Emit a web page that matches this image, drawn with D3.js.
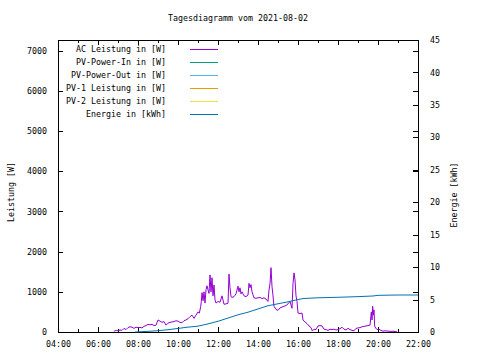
<!DOCTYPE html>
<html>
<head>
<meta charset="utf-8">
<script src="https://cdn.jsdelivr.net/npm/d3@7"></script>
<style>
    body { margin: 0; background: #fff; }
    svg { display: block; }
    text { font-family: "DejaVu Sans Mono", monospace; font-size: 8.3px; fill: #000; }
    .crisp { shape-rendering: crispEdges; }
</style>
</head>
<body>
<svg id="chart" width="480" height="360"></svg>
<script>
    "use strict";

    // --- data ---
    var title = "Tagesdiagramm vom 2021-08-02";
    var seriesNames = ["AC Leistung in [W]", "PV-Power-In in [W]", "PV-Power-Out in [W]",
        "PV-1 Leistung in [W]", "PV-2 Leistung in [W]", "Energie in [kWh]"];
    var seriesColors = ["#9400d3", "#009e73", "#56b4e9", "#e69f00", "#f0e442", "#0072b2"];

    var xTicks = ["04:00", "06:00", "08:00", "10:00", "12:00", "14:00", "16:00", "18:00", "20:00", "22:00"];
    var yTicks = [0, 1000, 2000, 3000, 4000, 5000, 6000, 7000];
    var y2Ticks = [0, 5, 10, 15, 20, 25, 30, 35, 40, 45];

    var acTimes = ["06:48", "06:55", "07:00", "07:06", "07:12", "07:18", "07:24", "07:30", "07:36", "07:42",
        "07:48", "07:54", "08:00", "08:06", "08:12", "08:18", "08:24", "08:30", "08:36", "08:42",
        "08:48", "08:54", "09:00", "09:06", "09:12", "09:18", "09:24", "09:30", "09:36", "09:42",
        "09:48", "09:54", "10:00", "10:06", "10:12", "10:18", "10:24", "10:30", "10:36", "10:42",
        "10:45", "10:48", "10:54", "11:00", "11:04", "11:08", "11:10", "11:12", "11:15", "11:18",
        "11:21", "11:24", "11:27", "11:30", "11:33", "11:36", "11:39", "11:42", "11:45", "11:48",
        "11:51", "11:54", "12:00", "12:06", "12:12", "12:18", "12:24", "12:30", "12:33", "12:36",
        "12:39", "12:42", "12:48", "12:54", "13:00", "13:03", "13:06", "13:09", "13:12", "13:18",
        "13:24", "13:30", "13:33", "13:36", "13:39", "13:42", "13:48", "13:54", "14:00", "14:06",
        "14:12", "14:18", "14:24", "14:30", "14:33", "14:36", "14:39", "14:42", "14:45", "14:48",
        "14:54", "15:00", "15:06", "15:12", "15:18", "15:24", "15:30", "15:36", "15:42", "15:45",
        "15:48", "15:51", "15:54", "15:57", "16:00", "16:06", "16:12", "16:15", "16:21", "16:27",
        "16:33", "16:39", "16:43", "16:48", "16:54", "17:00", "17:06", "17:12", "17:18", "17:24",
        "17:30", "17:36", "17:42", "17:48", "17:54", "18:00", "18:06", "18:12", "18:18", "18:24",
        "18:30", "18:36", "18:42", "18:48", "18:54", "19:00", "19:06", "19:12", "19:18", "19:24",
        "19:30", "19:36", "19:40", "19:42", "19:44", "19:46", "19:48", "19:50", "19:53", "19:57",
        "20:03", "20:09", "20:15", "20:21", "20:27", "20:33", "20:39", "20:45", "20:51", "20:57"];
    var acValues = [20, 40, 30, 50, 40, 90, 60, 110, 130, 120,
        90, 120, 110, 115, 100, 140, 160, 190, 180, 190,
        160, 170, 300, 270, 240, 260, 170, 220, 240, 250,
        260, 280, 270, 240, 230, 280, 300, 330, 380, 420,
        380, 340, 420, 500, 470, 630, 760, 980, 780, 1000,
        720, 1050, 1150, 1050, 960, 1420, 1000, 1350, 900, 1170,
        800, 720, 760, 740, 900, 690, 700, 715, 1440, 1100,
        880, 860, 880, 950, 1140, 1000, 1100, 950, 1000, 900,
        880, 920, 1210, 1100, 1180, 1000, 850, 840, 850, 860,
        830, 850, 820, 760, 1045, 1200, 1600, 1130, 900, 640,
        560, 540, 600, 620, 640, 660, 700, 760, 590, 1200,
        1470, 1300, 900, 760, 470, 460, 470, 300, 250, 210,
        150, 110, 25, 70, 60, 150, 160, 150, 70, 60,
        40, 70, 60, 70, 50, 60, 80, 120, 70, 50,
        90, 60, 40, 30, 90, 100, 110, 130, 140, 150,
        160, 170, 500, 300, 640, 420, 550, 150, 100, 60,
        70, 40, 20, 30, 25, 20, 15, 20, 10, 5];

    var energyTimes = ["07:51", "08:30", "09:00", "09:30", "10:00", "10:30", "11:00", "11:30", "12:00", "12:30",
        "13:00", "13:30", "14:00", "14:30", "15:00", "15:30", "16:00", "16:15", "16:30", "17:00",
        "18:00", "19:00", "19:45", "20:00", "21:00", "22:00"];
    var energyValues = [0, 0.1, 0.2, 0.35, 0.55, 0.75, 0.9, 1.25, 1.65, 2.15,
        2.65, 3.05, 3.55, 4.05, 4.35, 4.65, 5.0, 5.15, 5.2, 5.27,
        5.35, 5.45, 5.55, 5.65, 5.7, 5.7];

    // --- drawing ---
    var toHours = function (s) {
        var p = s.split(":");
        return +p[0] + (+p[1]) / 60;
    };

    var svg = d3.select("#chart");
    var plotLeft = 58, plotRight = 418, plotTop = 40, plotBottom = 332;

    var x = d3.scaleLinear().domain([4, 22]).range([plotLeft, plotRight]);
    var y = d3.scaleLinear().domain([0, 7265]).range([plotBottom, plotTop]);
    var y2 = d3.scaleLinear().domain([0, 45]).range([plotBottom, plotTop]);

    var fmtHour = function (d) { return d3.format("02d")(d) + ":00"; };
    var majorHours = xTicks.map(toHours);
    var minorHours = d3.range(5, 22, 2);

    var addAxis = function (axis, tx, ty) {
        var g = svg.append("g")
            .attr("class", "crisp")
            .attr("transform", "translate(" + tx + "," + ty + ")")
            .call(axis);
        g.select(".domain").remove();
        g.selectAll("line").attr("stroke", "#000");
        g.attr("font-family", null).attr("font-size", null);
        return g;
    };

    // bottom x axis with labels, minor ticks, top mirror
    addAxis(d3.axisBottom(x).tickValues(majorHours).tickFormat(fmtHour).tickSizeInner(-5).tickSizeOuter(0).tickPadding(9), 0, plotBottom);
    addAxis(d3.axisBottom(x).tickValues(minorHours).tickFormat("").tickSizeInner(-3).tickSizeOuter(0), 0, plotBottom);
    addAxis(d3.axisTop(x).tickValues(majorHours).tickFormat("").tickSizeInner(-5).tickSizeOuter(0), 0, plotTop);
    addAxis(d3.axisTop(x).tickValues(minorHours).tickFormat("").tickSizeInner(-3).tickSizeOuter(0), 0, plotTop);

    // left y axis, mirrored on the right
    addAxis(d3.axisLeft(y).tickValues(yTicks).tickFormat(d3.format("d")).tickSizeInner(-5).tickSizeOuter(0).tickPadding(11), plotLeft, 0);
    addAxis(d3.axisRight(y).tickValues(yTicks).tickFormat("").tickSizeInner(-5).tickSizeOuter(0), plotRight, 0);

    // right y2 axis
    addAxis(d3.axisRight(y2).tickValues(y2Ticks).tickFormat(d3.format("d")).tickSizeInner(-5).tickSizeOuter(0).tickPadding(12), plotRight, 0);

    // frame
    svg.append("rect")
        .attr("class", "crisp")
        .attr("x", plotLeft + 0.5).attr("y", plotTop + 0.5)
        .attr("width", plotRight - plotLeft).attr("height", plotBottom - plotTop)
        .attr("fill", "none").attr("stroke", "#000");

    // title and axis labels
    svg.append("text").attr("x", 238).attr("y", 21).attr("text-anchor", "middle").text(title);
    svg.append("text").attr("transform", "translate(14,192) rotate(-90)").attr("text-anchor", "middle").text("Leistung [W]");
    svg.append("text").attr("transform", "translate(457,195) rotate(-90)").attr("text-anchor", "middle").text("Energie [kWh]");

    // series lines
    var acData = acTimes.map(function (t, i) { return [toHours(t), acValues[i]]; });
    var energyData = energyTimes.map(function (t, i) { return [toHours(t), energyValues[i]]; });

    svg.append("path")
        .datum(acData)
        .attr("fill", "none")
        .attr("stroke", seriesColors[0])
        .attr("stroke-width", 1)
        .attr("d", d3.line().x(function (d) { return x(d[0]); }).y(function (d) { return y(d[1]); }));

    svg.append("path")
        .datum(energyData)
        .attr("fill", "none")
        .attr("stroke", seriesColors[5])
        .attr("stroke-width", 1)
        .attr("d", d3.line().x(function (d) { return x(d[0]); }).y(function (d) { return y2(d[1]); }));

    // legend
    var legend = svg.append("g");
    seriesNames.forEach(function (name, i) {
        var ly = 49 + i * 13;
        legend.append("text").attr("x", 166).attr("y", ly + 3).attr("text-anchor", "end").text(name);
        legend.append("line")
            .attr("class", "crisp")
            .attr("x1", 190).attr("x2", 218)
            .attr("y1", ly + 0.5).attr("y2", ly + 0.5)
            .attr("stroke", seriesColors[i]);
    });
</script>
</body>
</html>
